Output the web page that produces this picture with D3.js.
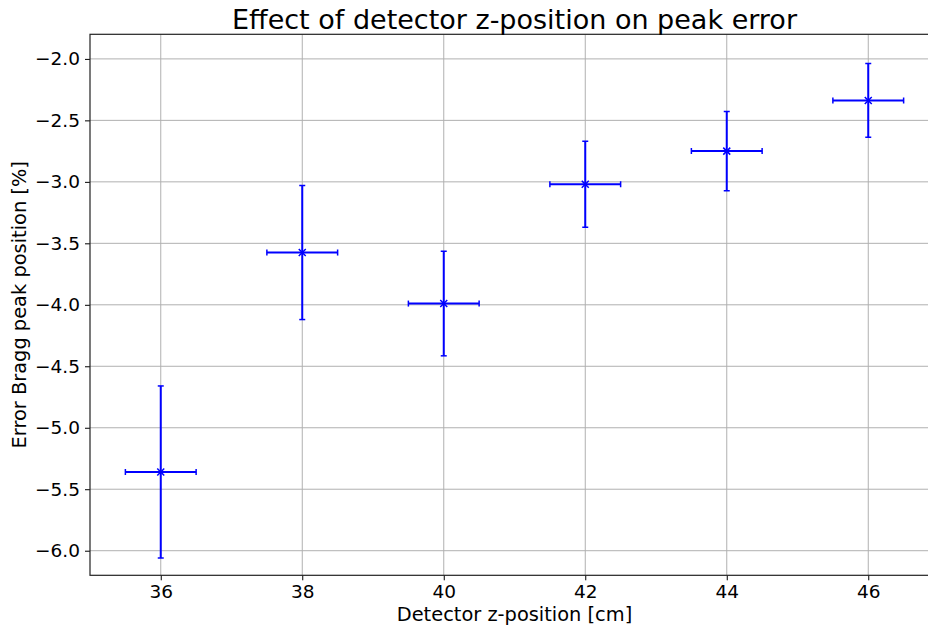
<!DOCTYPE html>
<html>
<head>
<meta charset="utf-8">
<script src="https://cdn.jsdelivr.net/npm/d3@7"></script>
<style>
  html, body { margin: 0; padding: 0; background: #fff; }
  svg { display: block; font-family: "DejaVu Sans", sans-serif; }
</style>
</head>
<body>
<svg id="chart" width="928" height="630"></svg>
<script>
// Detector z-position [cm] and resulting Bragg peak error [%]
const zPositions = [36, 38, 40, 42, 44, 46];
const peakError  = [-5.36, -3.575, -3.99, -3.02, -2.75, -2.338];
const yErr       = [0.70, 0.545, 0.425, 0.35, 0.322, 0.30];
const xErr       = [0.5, 0.5, 0.5, 0.5, 0.5, 0.5];
const xTicks = [36, 38, 40, 42, 44, 46];
const yTicks = [-6.0, -5.5, -5.0, -4.5, -4.0, -3.5, -3.0, -2.5, -2.0];

const svg = d3.select("#chart");
const plotL = 90, plotT = 34.3, plotR = 939, plotB = 575.3;

const x = d3.scaleLinear().domain([35, 47]).range([plotL, plotR]);
const y = d3.scaleLinear().domain([-6.2, -1.8]).range([plotB, plotT]);

svg.append("defs").append("clipPath").attr("id", "plotclip")
  .append("rect").attr("x", plotL).attr("y", plotT)
  .attr("width", plotR - plotL).attr("height", plotB - plotT);

// grid
const grid = svg.append("g").attr("clip-path", "url(#plotclip)");
grid.selectAll("line.gx").data(xTicks).enter().append("line")
  .attr("x1", d => x(d)).attr("x2", d => x(d))
  .attr("y1", plotT).attr("y2", plotB)
  .attr("stroke", "#b0b0b0").attr("stroke-width", 1);
grid.selectAll("line.gy").data(yTicks).enter().append("line")
  .attr("x1", plotL).attr("x2", plotR)
  .attr("y1", d => y(d)).attr("y2", d => y(d))
  .attr("stroke", "#b0b0b0").attr("stroke-width", 1);

// error bars
const data = zPositions.map((z, i) => ({ z, v: peakError[i], ey: yErr[i], ex: xErr[i] }));
const eb = svg.append("g").attr("clip-path", "url(#plotclip)");
const blue = "#0000ff";
const cap = 3;
data.forEach(d => {
  const g = eb.append("g");
  // vertical
  g.append("line").attr("x1", x(d.z)).attr("x2", x(d.z))
    .attr("y1", y(d.v - d.ey)).attr("y2", y(d.v + d.ey))
    .attr("stroke", blue).attr("stroke-width", 2);
  // horizontal
  g.append("line").attr("x1", x(d.z - d.ex)).attr("x2", x(d.z + d.ex))
    .attr("y1", y(d.v)).attr("y2", y(d.v))
    .attr("stroke", blue).attr("stroke-width", 2);
  // caps
  [d.v - d.ey, d.v + d.ey].forEach(vv => {
    g.append("line").attr("x1", x(d.z) - cap).attr("x2", x(d.z) + cap)
      .attr("y1", y(vv)).attr("y2", y(vv))
      .attr("stroke", blue).attr("stroke-width", 1.5);
  });
  [d.z - d.ex, d.z + d.ex].forEach(zz => {
    g.append("line").attr("x1", x(zz)).attr("x2", x(zz))
      .attr("y1", y(d.v) - cap).attr("y2", y(d.v) + cap)
      .attr("stroke", blue).attr("stroke-width", 1.5);
  });
  // 'x' marker
  const m = 3.5, cx = x(d.z), cy = y(d.v);
  g.append("path")
    .attr("d", `M${cx - m},${cy - m}L${cx + m},${cy + m}M${cx - m},${cy + m}L${cx + m},${cy - m}`)
    .attr("stroke", blue).attr("stroke-width", 1.5);
});

// axes
const xAxis = d3.axisBottom(x).tickValues(xTicks).tickSize(5).tickPadding(5)
  .tickFormat(d3.format("d"));
const yAxis = d3.axisLeft(y).tickValues(yTicks).tickSize(5).tickPadding(5)
  .tickFormat(d => d3.format(".1f")(d).replace("-", "\u2212"));

const gx = svg.append("g").attr("transform", `translate(0,${plotB})`).call(xAxis);
const gy = svg.append("g").attr("transform", `translate(${plotL},0)`).call(yAxis);
[gx, gy].forEach(g => {
  g.select(".domain").remove();
  g.selectAll(".tick line").attr("stroke", "#000").attr("stroke-width", 1);
  g.selectAll(".tick text").attr("fill", "#000").style("font-size", "18.5px")
    .style("font-family", "'DejaVu Sans', sans-serif");
});

// spines
svg.append("rect").attr("x", plotL).attr("y", plotT)
  .attr("width", plotR - plotL).attr("height", plotB - plotT)
  .attr("fill", "none").attr("stroke", "#222").attr("stroke-width", 1.2);

// labels
svg.append("text").attr("x", (plotL + plotR) / 2).attr("y", 29)
  .attr("text-anchor", "middle").style("font-size", "27px")
  .text("Effect of detector z-position on peak error");
svg.append("text").attr("x", (plotL + plotR) / 2).attr("y", 621)
  .attr("text-anchor", "middle").style("font-size", "19.4px")
  .text("Detector z-position [cm]");
svg.append("text")
  .attr("transform", `translate(26,${(plotT + plotB) / 2}) rotate(-90)`)
  .attr("text-anchor", "middle").style("font-size", "19.4px")
  .text("Error Bragg peak position [%]");
</script>
</body>
</html>
